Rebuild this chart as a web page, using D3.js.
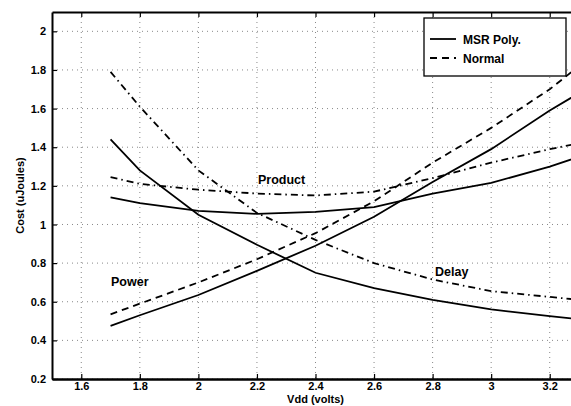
<!DOCTYPE html>
<html>
<head>
<meta charset="utf-8">
<script src="https://cdn.jsdelivr.net/npm/d3@7"></script>
<style>
body { margin: 0; background: #fff; }
svg text { font-family: "Liberation Sans", Arial, sans-serif; font-weight: bold; fill: #000; }
</style>
</head>
<body>
<svg id="chart" width="571" height="406"></svg>
<script>
// values
var vdd = [1.7, 1.8, 2.0, 2.2, 2.4, 2.6, 2.8, 3.0, 3.2, 3.3];

var power_msr    = [0.475, 0.53, 0.635, 0.76, 0.89, 1.04, 1.22, 1.39, 1.59, 1.68];
var power_normal = [0.535, 0.59, 0.70, 0.82, 0.955, 1.12, 1.32, 1.50, 1.70, 1.82];
var delay_msr    = [1.44, 1.28, 1.05, 0.895, 0.75, 0.67, 0.61, 0.56, 0.525, 0.51];
var delay_normal = [1.79, 1.61, 1.28, 1.06, 0.92, 0.80, 0.715, 0.655, 0.625, 0.61];
var prod_msr     = [1.14, 1.11, 1.07, 1.055, 1.065, 1.09, 1.16, 1.215, 1.30, 1.35];
var prod_normal  = [1.245, 1.21, 1.18, 1.16, 1.15, 1.17, 1.24, 1.32, 1.39, 1.42];

var x_ticks = [1.6, 1.8, 2, 2.2, 2.4, 2.6, 2.8, 3, 3.2];
var y_ticks = [0.2, 0.4, 0.6, 0.8, 1, 1.2, 1.4, 1.6, 1.8, 2];

var series = [
  {vals: power_msr, dash: null},
  {vals: power_normal, dash: "7,5"},
  {vals: delay_msr, dash: null},
  {vals: delay_normal, dash: "7,4,1.5,4"},
  {vals: prod_msr, dash: null},
  {vals: prod_normal, dash: "7,4,1.5,4"}
];

var svg = d3.select("#chart");

var x = d3.scaleLinear().domain([1.5, 3.3]).range([52, 579]);
var y = d3.scaleLinear().domain([0.2, 2.1]).range([379, 12]);

// grid
var grid = svg.append("g");
grid.selectAll("line.gx").data(x_ticks).enter().append("line")
  .attr("x1", d => x(d)).attr("x2", d => x(d))
  .attr("y1", y(2.1)).attr("y2", y(0.2))
  .style("stroke", "#888").style("stroke-width", 1).style("stroke-dasharray", "1,4");
grid.selectAll("line.gy").data(y_ticks).enter().append("line")
  .attr("x1", x(1.5)).attr("x2", x(3.3))
  .attr("y1", d => y(d)).attr("y2", d => y(d))
  .style("stroke", "#888").style("stroke-width", 1).style("stroke-dasharray", "1,4");

// axes, ticks inward like matlab
var xAxis = svg.append("g").attr("transform", "translate(0," + y(0.2) + ")")
  .call(d3.axisBottom(x).tickValues(x_ticks).tickSizeInner(-5).tickSizeOuter(0).tickPadding(3).tickFormat(d3.format("")));
var xTop = svg.append("g").attr("transform", "translate(0," + y(2.1) + ")")
  .call(d3.axisTop(x).tickValues(x_ticks).tickSizeInner(-5).tickSizeOuter(0).tickFormat(""));
var yAxis = svg.append("g").attr("transform", "translate(" + x(1.5) + ",0)")
  .call(d3.axisLeft(y).tickValues(y_ticks).tickSizeInner(-5).tickSizeOuter(0).tickPadding(6).tickFormat(d3.format("")));

[xAxis, xTop, yAxis].forEach(function(a) {
  a.select(".domain").style("stroke", "#000").style("stroke-width", 2);
  a.selectAll(".tick line").style("stroke", "#000").style("stroke-width", 1.2);
  a.selectAll("text").style("font-size", "11px").style("font-family", "Liberation Sans, Arial, sans-serif").style("font-weight", "bold");
});
xAxis.select(".domain").style("stroke-width", 2.5);

// curves
var line = d3.line().x((d, i) => x(vdd[i])).y(d => y(d));
svg.append("g").selectAll("path").data(series).enter().append("path")
  .attr("d", d => line(d.vals))
  .style("fill", "none").style("stroke", "#000").style("stroke-width", 1.8)
  .style("stroke-dasharray", d => d.dash);

// curve labels
svg.append("text").attr("x", 258).attr("y", 184).style("font-size", "12.5px").text("Product");
svg.append("text").attr("x", 111).attr("y", 286).style("font-size", "12.5px").text("Power");
svg.append("text").attr("x", 435).attr("y", 276).style("font-size", "12.5px").text("Delay");

// axis titles
svg.append("text").attr("x", x(2.4)).attr("y", 403).attr("text-anchor", "middle").style("font-size", "11px").text("Vdd (volts)");
svg.append("text").attr("transform", "translate(24," + y(1.15) + ") rotate(-90)")
  .attr("text-anchor", "middle").style("font-size", "11px").text("Cost (uJoules)");

// legend
var legend = svg.append("g");
legend.append("rect").attr("x", 424).attr("y", 18).attr("width", 142).attr("height", 58)
  .style("fill", "#fff").style("stroke", "#000").style("stroke-width", 1.3);
var leg_items = [{name: "MSR Poly.", dash: null}, {name: "Normal", dash: "7,5"}];
var leg = legend.selectAll("g").data(leg_items).enter().append("g")
  .attr("transform", (d, i) => "translate(0," + (39 + i * 19) + ")");
leg.append("line").attr("x1", 430).attr("x2", 456).attr("y1", 0).attr("y2", 0)
  .style("stroke", "#000").style("stroke-width", 1.8).style("stroke-dasharray", d => d.dash);
leg.append("text").attr("x", 463).attr("y", 5).style("font-size", "12px").text(d => d.name);
</script>
</body>
</html>
